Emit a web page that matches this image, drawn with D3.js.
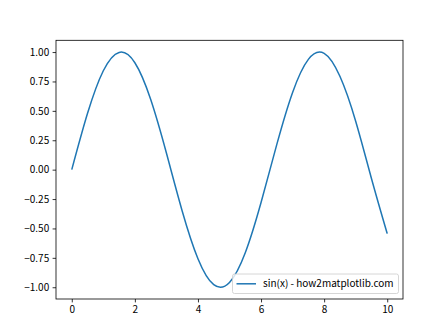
<!DOCTYPE html>
<html>
<head>
<meta charset="utf-8">
<script src="https://cdn.jsdelivr.net/npm/d3@7"></script>
<style>
  body { margin: 0; background: #fff; }
  svg { display: block; }
  text { font-family: "Noto Sans CJK SC", "Noto Sans", sans-serif; fill: #000; }
</style>
</head>
<body>
<svg id="chart" width="448" height="336"></svg>
<script>
// values, x step 0.5
const xValues = [0, 0.5, 1, 1.5, 2, 2.5, 3, 3.5, 4, 4.5, 5, 5.5, 6, 6.5, 7, 7.5, 8, 8.5, 9, 9.5, 10];
const yValues = [0, 0.479, 0.841, 0.997, 0.909, 0.598, 0.141, -0.351, -0.757, -0.978, -0.959,
  -0.706, -0.279, 0.215, 0.657, 0.938, 0.989, 0.794, 0.412, -0.075, -0.544];
const xTicks = [0, 2, 4, 6, 8, 10];
const yTicks = [-1, -0.75, -0.5, -0.25, 0, 0.25, 0.5, 0.75, 1];
const seriesName = 'sin(x) - how2matplotlib.com';

const svg = d3.select('#chart');
const plotLeft = 56, plotRight = 403, plotTop = 40.3, plotBottom = 299;
const fontSize = 10;

const x = d3.scaleLinear().domain([-0.5, 10.5]).range([plotLeft, plotRight]);
const y = d3.scaleLinear().domain([-1.1, 1.1]).range([plotBottom, plotTop]);

const data = xValues.map((v, i) => ({ x: v, y: yValues[i] }));

// line
const line = d3.line()
  .x(d => x(d.x))
  .y(d => y(d.y))
  .curve(d3.curveNatural);

svg.append('path')
  .datum(data)
  .attr('fill', 'none')
  .attr('stroke', '#1f77b4')
  .attr('stroke-width', 1.5)
  .attr('stroke-linejoin', 'round')
  .attr('d', line);

// axes
const xAxis = svg.append('g')
  .attr('transform', `translate(0,${plotBottom})`)
  .call(d3.axisBottom(x).tickValues(xTicks).tickSize(3.4).tickPadding(3.4).tickFormat(d3.format('d')));
const yAxis = svg.append('g')
  .attr('transform', `translate(${plotLeft},0)`)
  .call(d3.axisLeft(y).tickValues(yTicks).tickSize(3.4).tickPadding(3.4)
    .tickFormat(d => d3.format('.2f')(d).replace('-', '\u2212')));

[xAxis, yAxis].forEach(g => {
  g.select('.domain').remove();
  g.selectAll('line').attr('stroke', '#000').attr('stroke-width', 0.8);
  g.selectAll('text')
    .attr('font-size', fontSize)
    .attr('font-family', '"Noto Sans CJK SC", "Noto Sans", sans-serif')
    .style('fill', '#000');
});

// frame
svg.append('rect')
  .attr('x', plotLeft)
  .attr('y', plotTop)
  .attr('width', plotRight - plotLeft)
  .attr('height', plotBottom - plotTop)
  .attr('fill', 'none')
  .attr('stroke', '#000')
  .attr('stroke-width', 0.8);

// legend
const legend = svg.append('g');
legend.append('rect')
  .attr('x', 232.5)
  .attr('y', 274)
  .attr('width', 166)
  .attr('height', 19.5)
  .attr('rx', 2)
  .attr('fill', '#fff')
  .attr('fill-opacity', 0.8)
  .attr('stroke', '#cccccc')
  .attr('stroke-width', 0.8);
legend.append('line')
  .attr('x1', 236.5)
  .attr('x2', 256)
  .attr('y1', 283.8)
  .attr('y2', 283.8)
  .attr('stroke', '#1f77b4')
  .attr('stroke-width', 1.5);
legend.append('text')
  .attr('x', 263)
  .attr('y', 283.8)
  .attr('dy', '0.35em')
  .attr('font-size', fontSize)
  .text(seriesName);
</script>
</body>
</html>
